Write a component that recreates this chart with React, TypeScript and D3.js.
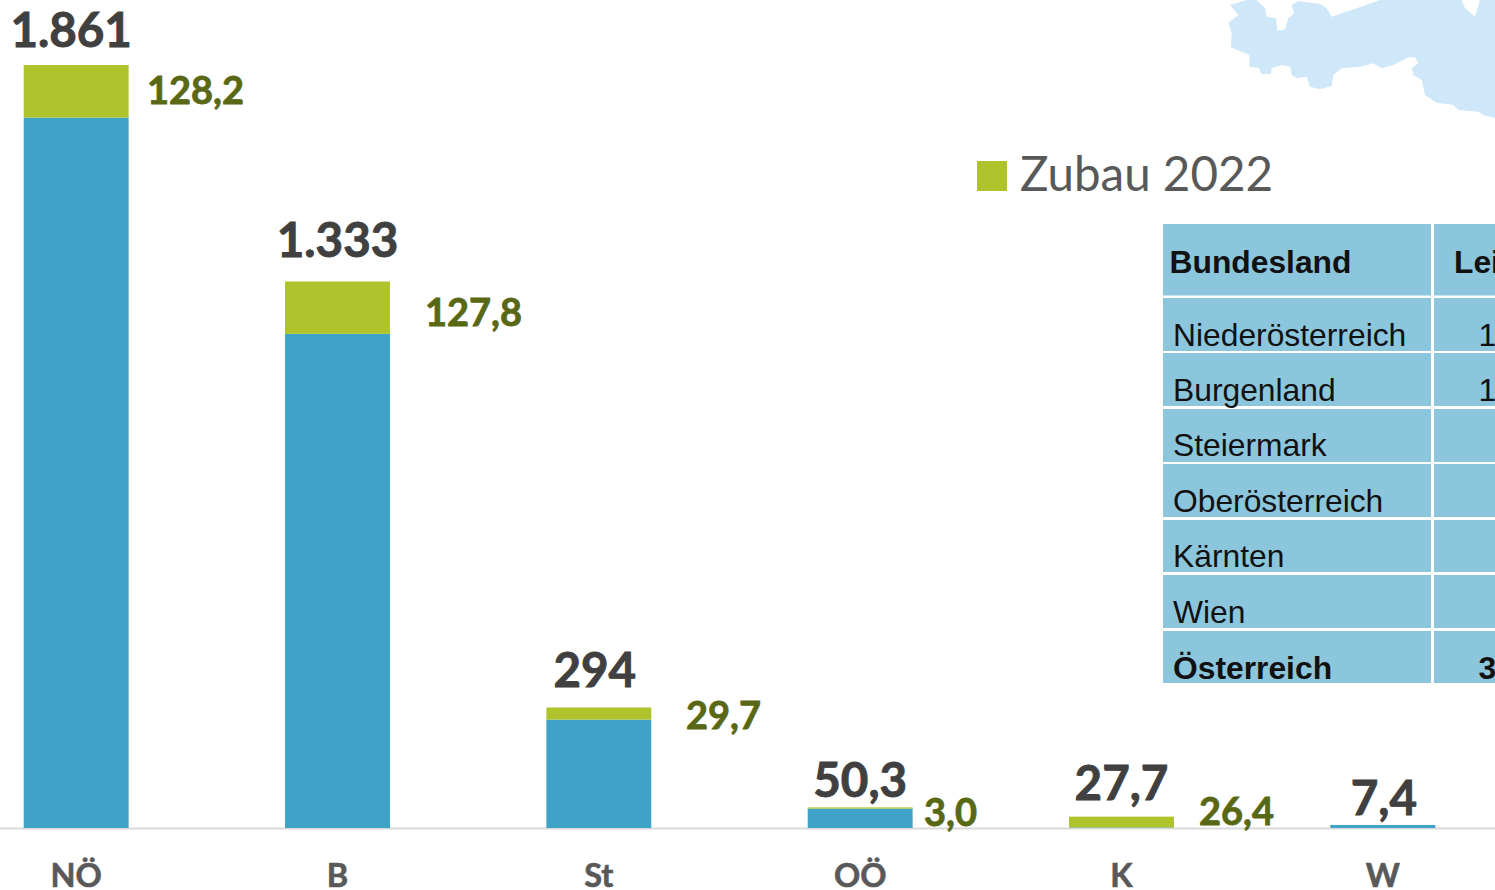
import React from "react";
import * as d3 from "d3";

const categories = ["NÖ", "B", "St", "OÖ", "K", "W"];
const totalLabels = ["1.861", "1.333", "294", "50,3", "27,7", "7,4"];
const totals = [1861, 1333, 294, 50.3, 27.7, 7.4];
const added = [128.2, 127.8, 29.7, 3.0, 26.4, 0];
const addedLabels = ["128,2", "127,8", "29,7", "3,0", "26,4", ""];

const legendLabel = "Zubau 2022";
const tableHeader = ["Bundesland", "Leistung"];
const tableRows = ["Niederösterreich", "Burgenland", "Steiermark", "Oberösterreich", "Kärnten", "Wien", "Österreich"];
const tableValues = ["1.861", "1.333", "", "", "", "", "3.573"];

// decorative map silhouette, in zoomed reference units
const mapOutline: [number, number][] = [
  [240, 15], [290, 0], [320, 0], [345, 25], [350, 50], [378, 55], [382, 92], [405, 88], [415, 55], [432, 40], [425, 15],
  [445, 3], [510, 12], [530, 25], [545, 50], [620, 25], [690, 0], [935, 0], [945, 25], [975, 50], [990, 0], [1035, 0],
  [1035, 355], [1000, 345], [985, 335], [925, 330], [910, 315], [860, 308], [825, 285], [815, 240], [790, 225], [785, 205],
  [805, 190], [795, 172], [775, 172], [730, 195], [695, 205], [670, 190], [630, 200], [575, 205], [550, 225], [545, 258],
  [510, 268], [480, 260], [470, 230], [440, 235], [425, 225], [420, 200], [395, 195], [365, 205], [362, 222], [335, 222],
  [325, 203], [298, 200], [298, 165], [242, 142], [245, 100], [235, 68], [265, 45],
];

const W = 1495;
const H = 890;
const BASE = 828;
const BLUE = "#3FA3C8";
const GREEN = "#AFC42C";
const OLIVE = "#596814";
const DARK = "#404040";
const GREY = "#595959";
const CELL = "#8BC6DD";
const FONT = "Lato, sans-serif";
const TABLE_FONT = "'Liberation Sans', Arial, sans-serif";

const x = d3.scaleBand<string>().domain(categories).range([23.7, 1435.3]).paddingInner(0.5985).paddingOuter(0);
const y = d3.scaleLinear().domain([0, 1861]).range([BASE, 65]);

const totalDx = [-5, 0, -4, 0, 0, 1];
const totalBaseline = [47, 257, 687, 797, 800, 815];
const addedX = [147, 425, 686, 924, 1199, 0];
const addedBaseline = [104, 326, 729, 826, 825, 0];

const rowTops = [298, 353, 409, 464, 520, 575, 631];
const rowBottoms = [351, 406, 462, 517, 572, 628, 683];
const rowBaselines = [346, 401, 456, 512, 567, 623, 679];

const line = d3.line();
const mapPath = line(mapOutline.map(([a, b]) => [a / 3 + 1150, b / 3]) as [number, number][]) + "Z";

export default function App() {
  return (
    <svg width={W} height={H} viewBox={`0 0 ${W} ${H}`} style={{ position: "absolute", left: 0, top: 0, display: "block" }}>
      <rect width={W} height={H} fill="#fff" />
      <path d={mapPath} fill="#CEE8F9" />
      <line x1={0} x2={W} y1={BASE + 0.5} y2={BASE + 0.5} stroke="#D9D9D9" strokeWidth={2} />
      {categories.map((c, i) => {
        const bx = x(c)!;
        const bw = x.bandwidth();
        const cx = bx + bw / 2;
        const yTop = y(totals[i]);
        const yMid = y(totals[i] - added[i]);
        return (
          <g key={c}>
            <rect x={bx} y={yMid} width={bw} height={BASE - yMid} fill={BLUE} />
            {added[i] > 0 && <rect x={bx} y={yTop} width={bw} height={yMid - yTop} fill={GREEN} />}
            <text x={cx + totalDx[i]} y={totalBaseline[i]} textAnchor="middle" fontFamily={FONT} fontWeight={700} fontSize={47.5} fill={DARK} stroke={DARK} strokeWidth={0.9}>
              {totalLabels[i]}
            </text>
            {addedLabels[i] && (
              <text x={addedX[i]} y={addedBaseline[i]} fontFamily={FONT} fontWeight={700} fontSize={38} fill={OLIVE} stroke={OLIVE} strokeWidth={0.8}>
                {addedLabels[i]}
              </text>
            )}
            <text x={cx} y={887} textAnchor="middle" fontFamily={FONT} fontWeight={700} fontSize={32.5} fill={GREY} stroke={GREY} strokeWidth={0.6}>
              {c}
            </text>
          </g>
        );
      })}
      <rect x={977} y={161} width={30} height={30} fill={GREEN} />
      <text x={1020} y={191} fontFamily={FONT} fontSize={47.5} fill={GREY}>
        {legendLabel}
      </text>
      <rect x={1163} y={224} width={268} height={71.5} fill={CELL} />
      <rect x={1434} y={224} width={61} height={71.5} fill={CELL} />
      <text x={1169.5} y={273} fontFamily={TABLE_FONT} fontWeight={700} fontSize={31.8} fill="#111">
        {tableHeader[0]}
      </text>
      <text x={1454} y={273} fontFamily={TABLE_FONT} fontWeight={700} fontSize={31.8} fill="#111">
        {tableHeader[1]}
      </text>
      {tableRows.map((r, i) => {
        const last = i === tableRows.length - 1;
        const weight = last ? 700 : 400;
        return (
          <g key={r}>
            <rect x={1163} y={rowTops[i]} width={268} height={rowBottoms[i] - rowTops[i]} fill={CELL} />
            <rect x={1434} y={rowTops[i]} width={61} height={rowBottoms[i] - rowTops[i]} fill={CELL} />
            <text x={1173} y={rowBaselines[i]} fontFamily={TABLE_FONT} fontWeight={weight} fontSize={31.8} fill="#111">
              {r}
            </text>
            {tableValues[i] && (
              <text x={1478.5} y={rowBaselines[i]} fontFamily={TABLE_FONT} fontWeight={weight} fontSize={31.8} fill="#111">
                {tableValues[i]}
              </text>
            )}
          </g>
        );
      })}
    </svg>
  );
}
